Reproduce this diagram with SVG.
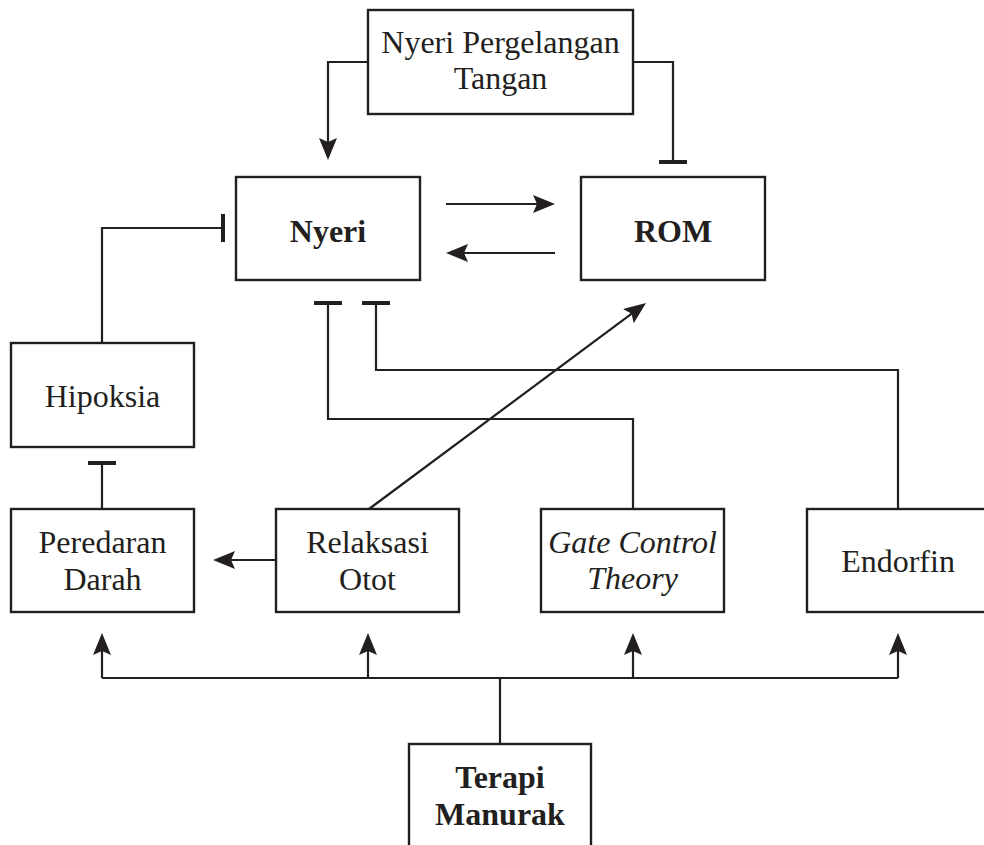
<svg xmlns="http://www.w3.org/2000/svg" width="984" height="845" viewBox="0 0 984 845">
<style>
.box{fill:#fff;stroke:#231f20;stroke-width:2.4}
.t{font-family:"Liberation Serif","Times New Roman",serif;font-size:32px;fill:#231f20;text-anchor:middle}
.b{font-weight:bold}
.i{font-style:italic}
.c{fill:none;stroke:#231f20;stroke-width:2.2}
.a{marker-end:url(#arrow)}
.tee{marker-end:url(#tee)}
</style>
<defs>
<marker id="arrow" markerUnits="userSpaceOnUse" markerWidth="24" markerHeight="20" refX="18" refY="9" orient="auto" viewBox="0 0 24 20">
<path d="M0,0 L22,9 L0,18 L4,9 z" fill="#231f20"/>
</marker>
<marker id="tee" markerUnits="userSpaceOnUse" markerWidth="4" markerHeight="28" refX="2" refY="14" orient="auto" viewBox="0 0 4 28">
<rect x="0" y="0" width="4" height="28" fill="#231f20"/>
</marker>
</defs>
<rect width="984" height="845" fill="#fff"/>
<g id="connectors">
<path class="c a" d="M368,62 H328 V156"/>
<path class="c tee" d="M633,62 H673 V162"/>
<path class="c a" d="M446,204 H551"/>
<path class="c a" d="M555,253 H450"/>
<path class="c tee" d="M102,343 V228 H223"/>
<path class="c tee" d="M102,509 V463"/>
<path class="c a" d="M276,560 H217"/>
<path class="c a" d="M369,509 L642.8,305.4"/>
<path class="c tee" d="M633,509 V419 H328 V303"/>
<path class="c tee" d="M898,509 V370 H376 V303"/>
<path class="c" d="M102,678 H898 M500,744 V678"/>
<path class="c a" d="M102,678 V637"/>
<path class="c a" d="M368,678 V637"/>
<path class="c a" d="M633,678 V637"/>
<path class="c a" d="M898,678 V637"/>
</g>
<g id="node-nyeri-pergelangan">
<rect class="box" x="368" y="10" width="265" height="104"/>
<text class="t" x="500.5" y="53">Nyeri Pergelangan</text>
<text class="t" x="500.5" y="89">Tangan</text>
</g>
<g id="node-nyeri">
<rect class="box" x="236" y="177" width="184" height="103"/>
<text class="t b" x="328" y="242">Nyeri</text>
</g>
<g id="node-rom">
<rect class="box" x="581" y="177" width="184" height="103"/>
<text class="t b" x="673" y="242">ROM</text>
</g>
<g id="node-hipoksia">
<rect class="box" x="11" y="343" width="183" height="104"/>
<text class="t" x="102.5" y="407">Hipoksia</text>
</g>
<g id="node-peredaran">
<rect class="box" x="11" y="509" width="183" height="103"/>
<text class="t" x="102.5" y="553">Peredaran</text>
<text class="t" x="102.5" y="590">Darah</text>
</g>
<g id="node-relaksasi">
<rect class="box" x="276" y="509" width="183" height="103"/>
<text class="t" x="367.5" y="553">Relaksasi</text>
<text class="t" x="367.5" y="590">Otot</text>
</g>
<g id="node-gate">
<rect class="box" x="541" y="509" width="183" height="103"/>
<text class="t i" x="632.5" y="553">Gate Control</text>
<text class="t i" x="632.5" y="589">Theory</text>
</g>
<g id="node-endorfin">
<rect class="box" x="807" y="509" width="184" height="103"/>
<text class="t" x="898" y="572">Endorfin</text>
</g>
<g id="node-terapi">
<rect class="box" x="409" y="744" width="182" height="110"/>
<text class="t b" x="500" y="788">Terapi</text>
<text class="t b" x="500" y="825">Manurak</text>
</g>
</svg>
